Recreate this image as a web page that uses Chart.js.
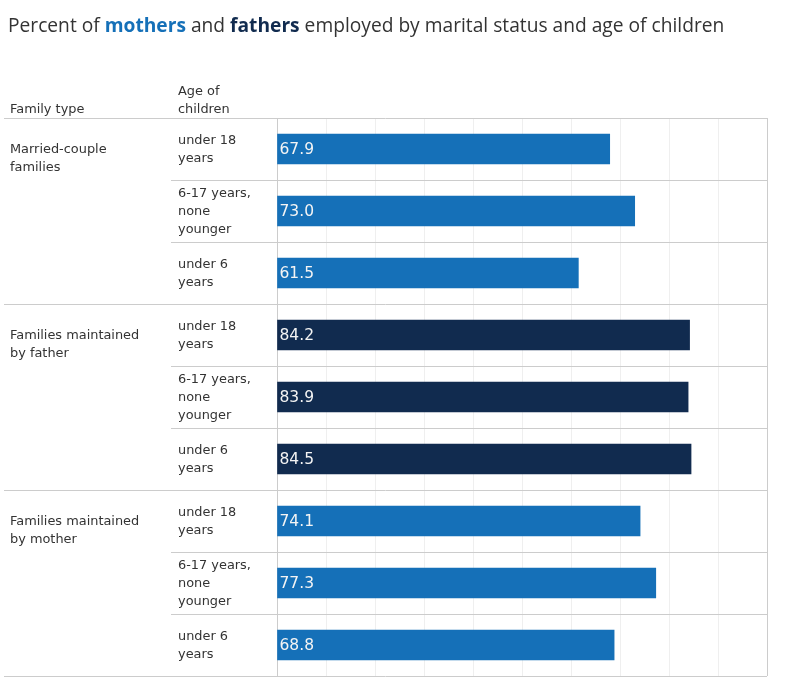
<!DOCTYPE html>
<html>
<head>
<meta charset="utf-8">
<script src="https://cdn.jsdelivr.net/npm/chart.js@4.4.1/dist/chart.umd.min.js"></script>
<style>
html,body{margin:0;padding:0;background:#fff;}
#wrap{position:relative;width:785px;height:691px;}
</style>
</head>
<body>
<div id="wrap"><canvas id="c" width="785" height="691"></canvas></div>
<script>
const titleParts = [
  {text: "Percent of ", color: "#333333", bold: false},
  {text: "mothers", color: "#1570b8", bold: true},
  {text: " and ", color: "#333333", bold: false},
  {text: "fathers", color: "#112b4f", bold: true},
  {text: " employed by marital status and age of children", color: "#333333", bold: false}
];
const familyTypes = [["Married-couple", "families"], ["Families maintained", "by father"], ["Families maintained", "by mother"]];
const ageGroups = [["under 18", "years"], ["6-17 years,", "none", "younger"], ["under 6", "years"]];
const categories = [
  "Married-couple: under 18", "Married-couple: 6-17", "Married-couple: under 6",
  "Father: under 18", "Father: 6-17", "Father: under 6",
  "Mother: under 18", "Mother: 6-17", "Mother: under 6"
];
const mothersValues = [67.9, 73.0, 61.5, null, null, null, 74.1, 77.3, 68.8];
const fathersValues = [null, null, null, 84.2, 83.9, 84.5, null, null, null];
const xTicks = [0, 10, 20, 30, 40, 50, 60, 70, 80, 90, 100];

const MOTHER = "#1570b8", FATHER = "#112b4f", TEXT = "#333333", LINE = "#cccccc";
const FONT = "'DejaVu Sans', Verdana, sans-serif";

const decor = {
  id: "decor",
  beforeDatasetsDraw(chart) {
    const ctx = chart.ctx, y = chart.scales.y, area = chart.chartArea;
    const step = y.getPixelForValue(1) - y.getPixelForValue(0);
    ctx.save();
    ctx.strokeStyle = LINE;
    ctx.lineWidth = 1;
    for (let i = 0; i <= categories.length; i++) {
      const py = Math.round(y.getPixelForValue(i) - step / 2) + 0.5;
      const x0 = (i % 3 === 0) ? 4 : 171;
      ctx.beginPath();
      ctx.moveTo(x0, py);
      ctx.lineTo(area.right, py);
      ctx.stroke();
    }
    ctx.restore();
  },
  afterDatasetsDraw(chart) {
    const ctx = chart.ctx, y = chart.scales.y;
    const step = y.getPixelForValue(1) - y.getPixelForValue(0);
    ctx.save();
    // value labels
    ctx.font = "15.5px " + FONT;
    ctx.fillStyle = "#f4f4f4";
    ctx.textBaseline = "middle";
    ctx.textAlign = "left";
    chart.data.datasets.forEach((ds, di) => {
      const meta = chart.getDatasetMeta(di);
      meta.data.forEach((bar, i) => {
        const v = ds.data[i];
        if (v === null || v === undefined) return;
        ctx.fillText(v.toFixed(1), bar.base + 2, bar.y + 1);
      });
    });
    // left labels
    ctx.fillStyle = TEXT;
    ctx.font = "12.9px " + FONT;
    const lh = 18;
    for (let i = 0; i < categories.length; i++) {
      const cy = y.getPixelForValue(i);
      const lines = ageGroups[i % 3];
      const start = cy - (lines.length - 1) * lh / 2;
      lines.forEach((t, k) => ctx.fillText(t, 178, start + k * lh + 1));
    }
    familyTypes.forEach((lines, g) => {
      const cy = y.getPixelForValue(g * 3);
      lines.forEach((t, k) => ctx.fillText(t, 10, cy + k * lh + 1));
    });
    // headers
    const top = y.getPixelForValue(0) - step / 2;
    ctx.fillText("Family type", 10, top - 8);
    ctx.fillText("Age of", 178, top - 26);
    ctx.fillText("children", 178, top - 8);
    // title
    let tx = 8;
    titleParts.forEach(p => {
      ctx.font = (p.bold ? "bold " : "") + "19.2px 'Open Sans', 'Liberation Sans', sans-serif";
      ctx.fillStyle = p.color;
      ctx.fillText(p.text, tx, 27);
      tx += ctx.measureText(p.text).width;
    });
    ctx.restore();
  }
};

new Chart(document.getElementById("c"), {
  type: "bar",
  data: {
    labels: categories,
    datasets: [
      {label: "Mothers", data: mothersValues, backgroundColor: MOTHER, grouped: false, barThickness: 30},
      {label: "Fathers", data: fathersValues, backgroundColor: FATHER, grouped: false, barThickness: 30}
    ]
  },
  options: {
    indexAxis: "y",
    responsive: false,
    animation: false,
    devicePixelRatio: 1,
    layout: {padding: {left: 277, right: 18, top: 118, bottom: 15}},
    plugins: {legend: {display: false}, tooltip: {enabled: false}, title: {display: false}},
    scales: {
      x: {
        min: 0, max: 100,
        afterBuildTicks(scale) { scale.ticks = xTicks.map(v => ({value: v})); },
        ticks: {display: false},
        grid: {
          drawTicks: false,
          color: c => (c.tick && (c.tick.value === 0 || c.tick.value === 100)) ? LINE : "#efefef"
        },
        border: {display: false}
      },
      y: {
        ticks: {display: false},
        grid: {display: false, drawTicks: false},
        border: {display: false}
      }
    }
  },
  plugins: [decor]
});
</script>
</body>
</html>
